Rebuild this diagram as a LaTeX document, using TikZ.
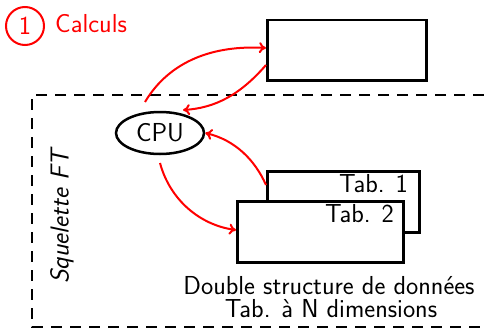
\documentclass[tikz,border=0pt]{standalone}
\usetikzlibrary{arrows.meta,shapes.geometric}
\begin{document}
\begin{tikzpicture}[x=1pt,y=-1pt,
  box/.style={draw=black,line width=2.5pt,fill=white},
  redarr/.style={draw=red,line width=2pt,-{To[length=7pt,width=11pt]}},
  lbl/.style={font=\sffamily\fontsize{26}{30}\selectfont,inner sep=0pt},
  dashedline/.style={draw=black,line width=2.5pt,dash pattern=on 11pt off 8pt}]
\useasboundingbox (0,0) rectangle (484,329);
% squelette dashed frame (clipped at the right and bottom)
\coordinate (fTL) at (32,95);
\coordinate (fTR) at (484,95);
\coordinate (fBL) at (32,327);
\coordinate (fBR) at (484,327);
\draw[dashedline] (fTR) -- (fTL) -- (fBL) -- (fBR);
% title
\node[draw=red,circle,line width=2pt,minimum size=38pt,inner sep=0pt,text=red,lbl] (one) at (25,26) {1};
\node[lbl,text=red,anchor=base west] (calc) at (55,33) {Calculs};
% top box
\node[box,minimum width=159pt,minimum height=60pt,anchor=north west,inner sep=0pt] (top) at (266,19) {};
% CPU
\node[box,ellipse,minimum width=88pt,minimum height=42pt,inner sep=0pt,lbl] (cpu) at (160,133) {CPU};
% tables
\node[box,minimum width=152pt,minimum height=61pt,anchor=north west,inner sep=0pt] (t1) at (266,170) {};
\node[lbl,anchor=base east] (t1l) at (408,192) {Tab. 1};
\node[box,minimum width=166pt,minimum height=61pt,anchor=north west,inner sep=0pt] (t2) at (236,200) {};
\node[lbl,anchor=base east] (t2l) at (394,222) {Tab. 2};
% labels
\node[lbl,rotate=90,font=\sffamily\itshape\fontsize{26}{30}\selectfont] (sq) at (62,217) {Squelette FT};
\node[lbl,anchor=base] (d1) at (329,294) {Double structure de données};
\node[lbl,anchor=base] (d2) at (331,317) {Tab. à N dimensions};
% arrows
\coordinate (a1s) at (145,102);
\coordinate (a2e) at (183,110);
\coordinate (a3s) at (266,185);
\coordinate (a4s) at (160,163);
\draw[redarr] (a1s) .. controls (170,60) and (215,45) .. (top.west |- 0,48);
\draw[redarr] (top.west |- 0,65) .. controls (240,95) and (215,108) .. (a2e);
\draw[redarr] (a3s) .. controls (255,160) and (235,140) .. (cpu.east);
\draw[redarr] (a4s) .. controls (170,200) and (200,225) .. (t2.west |- 0,230);
\end{tikzpicture}
\end{document}
